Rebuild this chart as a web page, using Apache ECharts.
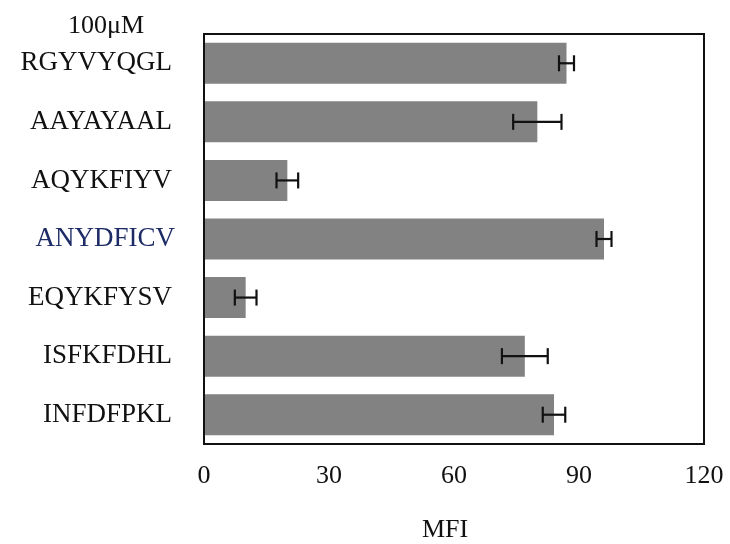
<!DOCTYPE html>
<html>
<head>
<meta charset="utf-8">
<script src="https://cdn.jsdelivr.net/npm/echarts@6/dist/echarts.min.js"></script>
<style>html,body{margin:0;padding:0;background:#fff}#c{width:730px;height:544px}</style>
</head>
<body>
<div id="c"></div>
<script>
const categories = ['RGYVYQGL','AAYAYAAL','AQYKFIYV','ANYDFICV','EQYKFYSV','ISFKFDHL','INFDFPKL'];
const values = [87, 80, 20, 96, 10, 77, 84];
const errors = [1.8, 5.8, 2.6, 1.8, 2.6, 5.5, 2.7];
const xTicks = [0, 30, 60, 90, 120];
const concLabel = '100\u03bcM';
const xName = 'MFI';

const FONT = '"Liberation Serif", "DejaVu Serif", serif';
const chart = echarts.init(document.getElementById('c'), null, {renderer: 'canvas'});

const errData = categories.map((c, i) => [i, values[i], errors[i]]);

chart.setOption({
  animation: false,
  backgroundColor: '#fff',
  grid: {left: 204, right: 26, top: 34, bottom: 100, show: true, borderColor: '#111', borderWidth: 2, backgroundColor: 'transparent', z: 10},
  xAxis: {
    type: 'value', min: xTicks[0], max: xTicks[xTicks.length - 1], interval: 30,
    axisLine: {show: false}, axisTick: {show: false}, splitLine: {show: false},
    axisLabel: {fontFamily: FONT, fontSize: 26, color: '#111', margin: 19}
  },
  yAxis: {
    type: 'category', data: categories, inverse: true,
    axisLine: {show: false}, axisTick: {show: false},
    axisLabel: {
      fontFamily: FONT, fontSize: 27, color: '#111', margin: 32,
      formatter: v => v === 'ANYDFICV' ? '{b|' + v + '}' : v,
      rich: {b: {fontFamily: FONT, fontSize: 27, color: '#1d2b66', padding: [0, -3, 0, 0]}}
    }
  },
  series: [
    {
      type: 'bar', data: values, barWidth: 41,
      itemStyle: {color: '#828282'}
    },
    {
      type: 'custom', data: errData, z: 5,
      renderItem: function (params, api) {
        const idx = api.value(0);
        const v = api.value(1), e = api.value(2);
        const lo = api.coord([v - e, idx]);
        const hi = api.coord([v + e, idx]);
        const h = 8;
        const st = {stroke: '#111', lineWidth: 2.2};
        return {type: 'group', children: [
          {type: 'line', shape: {x1: lo[0], y1: lo[1], x2: hi[0], y2: hi[1]}, style: st},
          {type: 'line', shape: {x1: lo[0], y1: lo[1] - h, x2: lo[0], y2: lo[1] + h}, style: st},
          {type: 'line', shape: {x1: hi[0], y1: hi[1] - h, x2: hi[0], y2: hi[1] + h}, style: st}
        ]};
      }
    }
  ],
  graphic: [
    {type: 'text', x: 106, y: 26, style: {text: concLabel, font: '26px ' + FONT, fill: '#111', textAlign: 'center', textVerticalAlign: 'middle'}, silent: true},
    {type: 'text', x: 445, y: 530, style: {text: xName, font: '26px ' + FONT, fill: '#111', textAlign: 'center', textVerticalAlign: 'middle'}, silent: true}
  ]
});
</script>
</body>
</html>
